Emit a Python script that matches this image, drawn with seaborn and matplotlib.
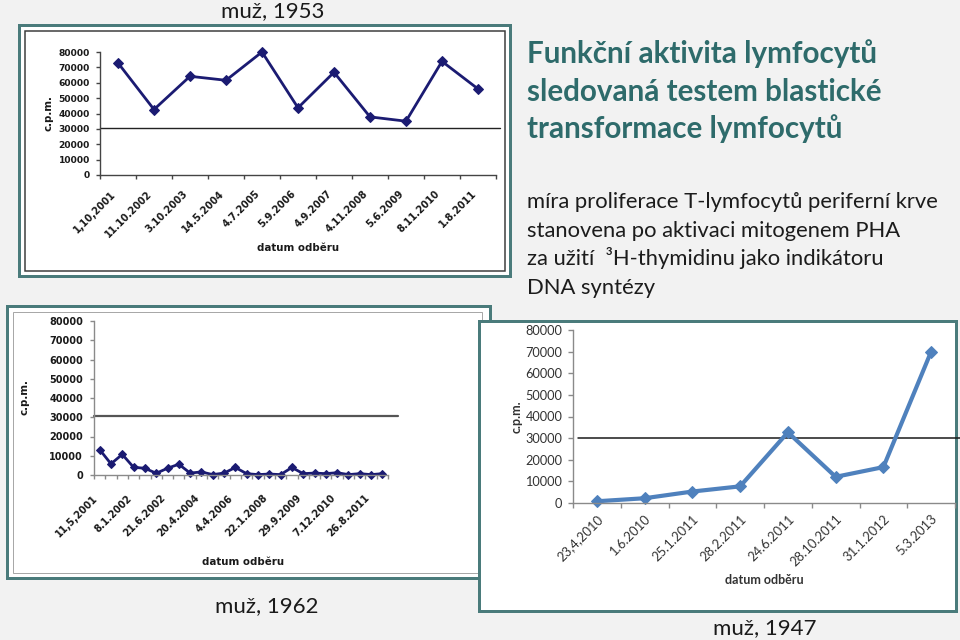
import numpy as np
import pandas as pd
import matplotlib
matplotlib.use("Agg")
import matplotlib.pyplot as plt
import seaborn as sns
from matplotlib.patches import Rectangle

# ---------------- data ----------------
top_dates = ["1,10,2001", "11.10.2002", "3.10.2003", "14.5.2004", "4.7.2005",
             "5.9.2006", "4.9.2007", "4.11.2008", "5.6.2009", "8.11.2010", "1.8.2011"]
top_cpm = [72900, 42600, 64200, 61600, 80000, 43700, 66800, 37800, 35000, 73900, 56000]
top_limit = 30500

mid_tick_dates = ["11,5,2001", "8.1.2002", "21.6.2002", "20.4.2004", "4.4.2006",
                  "22.1.2008", "29.9.2009", "7.12.2010", "26.8.2011"]
mid_label_step = 3
mid_cpm = [13200, 5800, 10700, 4000, 3500, 900, 3500, 5600, 1000, 1600, 200, 1000, 3900,
           700, 200, 500, 200, 3900, 700, 1000, 700, 1200, 200, 700, 200, 700]
mid_limit = 30700

right_dates = ["23,4,2010", "1.6.2010", "25.1.2011", "28.2.2011", "24.6.2011",
               "28.10.2011", "31.1.2012", "5.3.2013"]
right_cpm = [800, 2200, 5300, 7700, 32700, 12100, 16600, 70000]
right_limit = 30000

y_ticks = [0, 10000, 20000, 30000, 40000, 50000, 60000, 70000, 80000]

title_lines = ["Funkční aktivita lymfocytů", "sledovaná testem blastické",
               "transformace lymfocytů"]
body_lines = ["míra proliferace T-lymfocytů periferní krve",
              "stanovena po aktivaci mitogenem PHA",
              "za užití  ³H-thymidinu jako indikátoru",
              "DNA syntézy"]
captions = ["muž, 1953", "muž, 1962", "muž, 1947"]
x_label = "datum odběru"
y_label = "c.p.m."

# ---------------- layout helpers ----------------
W, H = 960, 640
sns.set_style("white")
plt.rcParams["font.family"] = ["DejaVu Sans"]
fig = plt.figure(figsize=(W / 100, H / 100), dpi=100)
fig.patch.set_facecolor("#f2f2f2")

TEAL = "#4a7b7b"


def frac_rect(x0, y0, x1, y1):
    return [x0 / W, 1 - y1 / H, (x1 - x0) / W, (y1 - y0) / H]


def frame(x0, y0, x1, y1, ec, lw_px, fc="white", z=-2):
    r = Rectangle((x0 / W, 1 - y1 / H), (x1 - x0) / W, (y1 - y0) / H,
                  transform=fig.transFigure, facecolor=fc, edgecolor=ec,
                  linewidth=lw_px * 0.72, zorder=z)
    fig.add_artist(r)


def ftext(x, y, s, **kw):
    fig.text(x / W, 1 - y / H, s, **kw)


# frames
frame(18.5, 24.5, 510.5, 275.5, TEAL, 3, z=-3)
frame(25, 30.5, 504.5, 270.5, "#3a3a3a", 1.5, fc="white", z=-3)
frame(6.5, 305.5, 489.5, 577.5, TEAL, 3, z=-3)
frame(12.5, 311.5, 482, 573, "#a8a8a8", 1, fc="white", z=-3)
frame(478.5, 320.5, 955.5, 610.5, TEAL, 3, z=-2)


def style_axes(ax, n, tick_labels, label_pos, yfont, xfont, spine_col,
               ypad, xpad, xva, tick_len):
    ax.set_facecolor("none")
    ax.set_ylim(0, 80000)
    ax.set_xlim(-0.5, n - 0.5)
    for s in ["top", "right"]:
        ax.spines[s].set_visible(False)
    for s in ["left", "bottom"]:
        ax.spines[s].set_color(spine_col)
        ax.spines[s].set_linewidth(1)
    ax.set_yticks(y_ticks)
    ax.set_yticklabels([str(v) for v in y_ticks], **yfont)
    ax.tick_params(axis="y", direction="out", length=tick_len, width=1,
                   color=spine_col, pad=ypad, left=True)
    ax.set_xticks(label_pos)
    ax.set_xticklabels(tick_labels, rotation=45, ha="right", va=xva,
                       rotation_mode="anchor", **xfont)
    ax.set_xticks(np.arange(-0.5, n, 1.0), minor=True)
    ax.tick_params(axis="x", which="major", length=0, pad=xpad, bottom=True)
    ax.tick_params(axis="x", which="minor", direction="out", length=tick_len,
                   width=1, color=spine_col, bottom=True)
    ax.set_xlabel("")
    ax.set_ylabel("")
    ax.grid(False)


# ---------------- top chart: muž, 1953 ----------------
ax1 = fig.add_axes(frac_rect(100, 52, 496, 175))
df1 = pd.DataFrame({"i": np.arange(len(top_cpm)), "cpm": top_cpm})
sns.lineplot(data=df1, x="i", y="cpm", ax=ax1, color="#1b1b72", linewidth=2,
             marker="D", markersize=5, markeredgecolor="#1b1b72", clip_on=False)
style_axes(ax1, len(top_cpm), top_dates, np.arange(len(top_cpm)),
           dict(fontsize=6.6, fontweight="bold", color="#1a1a1a"),
           dict(fontsize=7.0, fontweight="bold", color="#1a1a1a"),
           "#444444", 4, 15, "bottom", 3.2)
ax1.axhline(top_limit, xmin=0, xmax=(500 - 100) / 396, color="#222222",
            linewidth=1, clip_on=False, zorder=1)
ftext(298, 248, x_label, ha="center", va="center", fontsize=7.4,
      fontweight="bold", color="#1a1a1a")
ftext(48, 113, y_label, ha="center", va="center", rotation=90, fontsize=7.4,
      fontweight="bold", color="#1a1a1a")

# ---------------- middle chart: muž, 1962 ----------------
ax2 = fig.add_axes(frac_rect(94, 321, 388, 475))
df2 = pd.DataFrame({"i": np.arange(len(mid_cpm)), "cpm": mid_cpm})
sns.lineplot(data=df2, x="i", y="cpm", ax=ax2, color="#1b1b72", linewidth=2,
             marker="D", markersize=4, markeredgecolor="#1b1b72", clip_on=False)
mid_pos = np.arange(0, len(mid_cpm), mid_label_step)[:len(mid_tick_dates)]
style_axes(ax2, len(mid_cpm), mid_tick_dates, mid_pos,
           dict(fontsize=7, fontweight="bold", color="#1a1a1a"),
           dict(fontsize=7, fontweight="bold", color="#1a1a1a"),
           "#8a8a8a", 5, 18, "bottom", 3)
ax2.axhline(mid_limit, xmin=0, xmax=(398 - 94) / 294, color="#555555",
            linewidth=1.6, clip_on=False, zorder=1)
ftext(243, 562, x_label, ha="center", va="center", fontsize=7.4,
      fontweight="bold", color="#1a1a1a")
ftext(25, 397, y_label, ha="center", va="center", rotation=90, fontsize=7.4,
      fontweight="bold", color="#1a1a1a")

# ---------------- right chart: muž, 1947 ----------------
ax3 = fig.add_axes(frac_rect(573, 330, 955, 503))
df3 = pd.DataFrame({"i": np.arange(len(right_cpm)), "cpm": right_cpm})
sns.lineplot(data=df3, x="i", y="cpm", ax=ax3, color="#4f81bd", linewidth=3,
             marker="D", markersize=6.5, markeredgecolor="#4f81bd", clip_on=False)
style_axes(ax3, len(right_cpm), right_dates, np.arange(len(right_cpm)),
           dict(fontsize=9.2, fontfamily="Lato", color="#333333"),
           dict(fontsize=9.4, fontfamily="Lato", color="#333333"),
           "#8a8a8a", 4.3, 7, "top", 3.4)
ax3.axhline(right_limit, xmin=(578 - 573) / 382, xmax=(960 - 573) / 382,
            color="#1a1a1a", linewidth=1.1, clip_on=False, zorder=1)
ftext(764, 580, x_label, ha="center", va="center", fontsize=9,
      fontweight="bold", fontfamily="Lato", color="#333333")
ftext(517, 417, y_label, ha="center", va="center", rotation=90, fontsize=9,
      fontweight="bold", fontfamily="Lato", color="#333333")

# ---------------- captions & text ----------------
ftext(273, 11, captions[0], ha="center", va="center", fontsize=16,
      fontfamily="Lato", color="#1a1a1a")
ftext(267, 606, captions[1], ha="center", va="center", fontsize=16,
      fontfamily="Lato", color="#1a1a1a")
ftext(765, 628, captions[2], ha="center", va="center", fontsize=16,
      fontfamily="Lato", color="#1a1a1a")

for line, yb in zip(title_lines, [63, 101, 138]):
    ftext(527, yb, line, ha="left", va="baseline", fontsize=21.3,
          fontweight="bold", fontfamily="Lato", color="#2e6b6b")
for line, yb in zip(body_lines, [208, 237, 265, 294]):
    ftext(527, yb, line, ha="left", va="baseline", fontsize=15.8,
          fontfamily="Lato", color="#1c1c1c")

fig.savefig("out.png", dpi=100, facecolor=fig.get_facecolor())
